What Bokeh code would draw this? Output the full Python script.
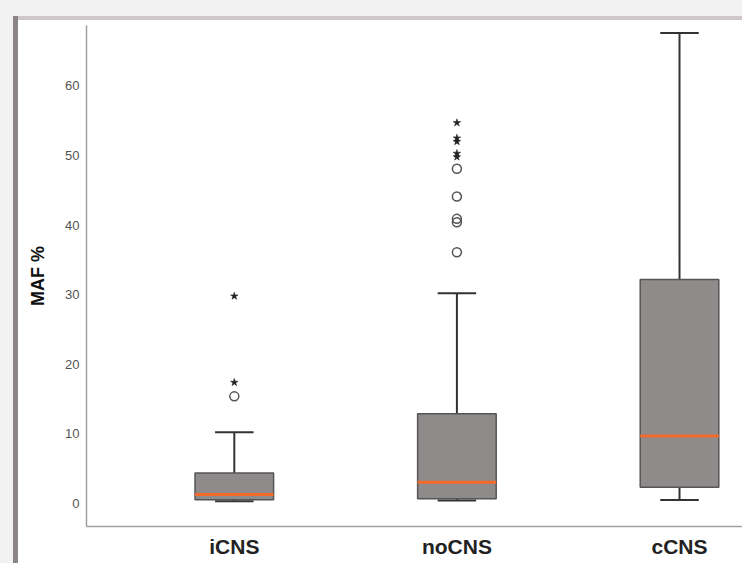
from bokeh.plotting import figure
from bokeh.models import Range1d, FixedTicker, Spacer
from bokeh.layouts import row, column
from bokeh.embed import file_html
from bokeh.resources import INLINE

# ---- data ----
categories = ["iCNS", "noCNS", "cCNS"]
whisker_low = [0.33, 0.43, 0.5]
q1 = [0.53, 0.67, 2.35]
median = [1.29, 3.06, 9.7]
q3 = [4.4, 12.9, 32.2]
whisker_high = [10.24, 30.2, 67.6]

# outliers: (category index, value)
circle_cat = [0, 1, 1, 1, 1, 1]
circle_val = [15.4, 48.1, 44.1, 40.9, 40.4, 36.1]
star_cat = [0, 0, 1, 1, 1, 1, 1]
star_val = [29.8, 17.4, 54.7, 52.5, 52.0, 50.3, 49.8]

y_ticks = [0, 10, 20, 30, 40, 50, 60]

# ---- layout geometry ----
TOTAL_W, TOTAL_H = 742, 563
OUT_L, OUT_T = 13, 16     # outer grey margin
EDGE_L, EDGE_T = 5, 4     # card edges
PW = TOTAL_W - OUT_L - EDGE_L
PH = TOTAL_H - OUT_T - EDGE_T
ML, MT, MB = 68, 5, 37
frame_w = PW - ML

x_start = -0.664
px_per_unit = 222.6
x_end = x_start + frame_w / px_per_unit

p = figure(width=PW, height=PH, output_backend="svg", toolbar_location=None,
           x_range=Range1d(x_start, x_end), y_range=Range1d(-3.30, 68.68),
           min_border_left=ML, min_border_right=0, min_border_top=MT,
           min_border_bottom=MB)
p.border_fill_color = "white"
p.background_fill_color = "white"
p.outline_line_color = None
p.xgrid.visible = False
p.ygrid.visible = False

xs = list(range(len(categories)))
box_w = 0.353
cap_w = 0.173

# whiskers
p.segment(x0=xs, y0=q3, x1=xs, y1=whisker_high, line_color="#333333", line_width=2)
p.segment(x0=xs, y0=whisker_low, x1=xs, y1=q1, line_color="#333333", line_width=2)
# caps
p.segment(x0=[x - cap_w / 2 for x in xs], y0=whisker_high,
          x1=[x + cap_w / 2 for x in xs], y1=whisker_high, line_color="#333333", line_width=2)
p.segment(x0=[x - cap_w / 2 for x in xs], y0=whisker_low,
          x1=[x + cap_w / 2 for x in xs], y1=whisker_low, line_color="#333333", line_width=2)
# boxes
p.vbar(x=xs, width=box_w, bottom=q1, top=q3, fill_color="#8f8b8b",
       line_color="#555555", line_width=1.5)
# medians
p.segment(x0=[x - box_w / 2 for x in xs], y0=median,
          x1=[x + box_w / 2 for x in xs], y1=median, line_color="#f26b2c", line_width=3)

# outliers
p.scatter(x=circle_cat, y=circle_val, marker="circle", size=9, fill_color=None,
          line_color="#555555", line_width=1.5)
p.scatter(x=star_cat, y=star_val, marker="star", size=8, fill_color="#222222",
          line_color="#222222", line_width=0.5)

# axes
p.xaxis.ticker = FixedTicker(ticks=xs)
p.xaxis.major_label_overrides = {i: c for i, c in enumerate(categories)}
p.xaxis.major_label_text_font = "Liberation Sans"
p.xaxis.major_label_text_font_style = "bold"
p.xaxis.major_label_text_font_size = "21px"
p.xaxis.major_label_text_color = "#222222"
p.xaxis.major_label_standoff = 8
p.yaxis.ticker = FixedTicker(ticks=y_ticks)
p.yaxis.major_label_text_font = "Liberation Sans"
p.yaxis.major_label_text_font_size = "13px"
p.yaxis.major_label_text_color = "#555555"
p.yaxis.major_label_standoff = 7
p.yaxis.axis_label = "MAF %"
p.yaxis.axis_label_text_font = "Liberation Sans"
p.yaxis.axis_label_text_font_style = "bold"
p.yaxis.axis_label_text_font_size = "18px"
p.yaxis.axis_label_text_color = "#111111"
p.yaxis.axis_label_standoff = 14
for ax in (p.xaxis, p.yaxis):
    ax.axis_line_color = "#a0a0a0"
    ax.axis_line_width = 1.5
    ax.major_tick_line_color = None
    ax.minor_tick_line_color = None
    ax.major_tick_out = 0
    ax.major_tick_in = 0

grey = {"background-color": "#f2f2f2"}
layout = row(
    Spacer(width=OUT_L, height=TOTAL_H, styles=grey),
    column(
        Spacer(width=TOTAL_W - OUT_L, height=OUT_T, styles=grey),
        row(
            Spacer(width=EDGE_L, height=TOTAL_H - OUT_T, styles={"background-color": "#8c8585"}),
            column(
                Spacer(width=PW, height=EDGE_T, styles={"background-color": "#cfc8c8"}),
                p,
            ),
        ),
    ),
)

open("out.html", "w").write(file_html(layout, INLINE))
